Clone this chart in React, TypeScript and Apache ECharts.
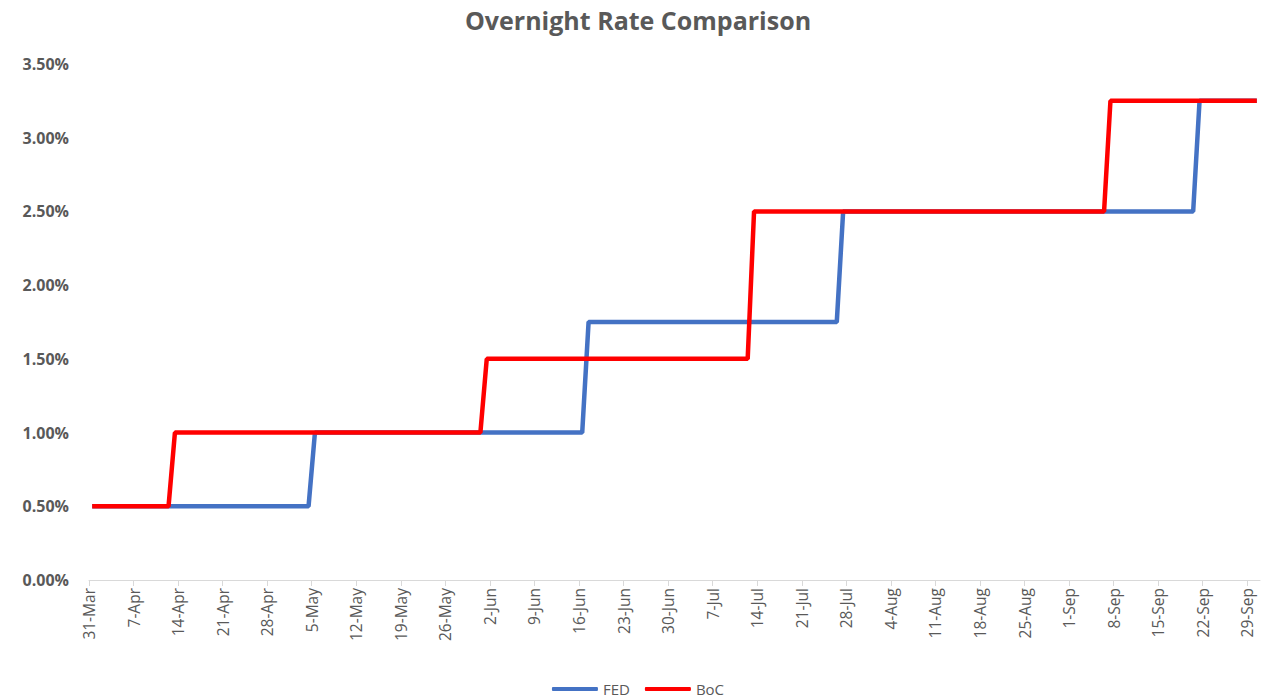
import React, { useEffect, useRef } from "react";
import * as echarts from "echarts";

const startDate = "2022-03-31";
const endDate = "2022-10-01";

const tickDates = [
  "2022-03-31", "2022-04-07", "2022-04-14", "2022-04-21", "2022-04-28",
  "2022-05-05", "2022-05-12", "2022-05-19", "2022-05-26", "2022-06-02",
  "2022-06-09", "2022-06-16", "2022-06-23", "2022-06-30", "2022-07-07",
  "2022-07-14", "2022-07-21", "2022-07-28", "2022-08-04", "2022-08-11",
  "2022-08-18", "2022-08-25", "2022-09-01", "2022-09-08", "2022-09-15",
  "2022-09-22", "2022-09-29",
];

const fedDates = [
  "2022-03-31", "2022-05-04", "2022-05-05", "2022-06-16", "2022-06-17",
  "2022-07-26", "2022-07-27", "2022-09-20", "2022-09-21", "2022-09-30",
];
const fedRates = [0.5, 0.5, 1.0, 1.0, 1.75, 1.75, 2.5, 2.5, 3.25, 3.25];

const bocDates = [
  "2022-03-31", "2022-04-12", "2022-04-13", "2022-05-31", "2022-06-01",
  "2022-07-12", "2022-07-13", "2022-09-06", "2022-09-07", "2022-09-30",
];
const bocRates = [0.5, 0.5, 1.0, 1.0, 1.5, 1.5, 2.5, 2.5, 3.25, 3.25];

const MONTHS = ["Jan", "Feb", "Mar", "Apr", "May", "Jun", "Jul", "Aug", "Sep", "Oct", "Nov", "Dec"];
const DAY = 86400000;
const t0 = Date.parse(startDate + "T00:00:00Z");
const dayOf = (d: string) => (Date.parse(d + "T00:00:00Z") - t0) / DAY;
// points sit in the middle of each day's slot (date axis)
const toPoints = (dates: string[], vals: number[]) => dates.map((d, i) => [dayOf(d) + 0.5, vals[i]]);
const fmtDay = (v: number) => {
  const dt = new Date(t0 + Math.round(v) * DAY);
  return dt.getUTCDate() + "-" + MONTHS[dt.getUTCMonth()];
};

export default function App() {
  const ref = useRef<HTMLDivElement>(null);
  useEffect(() => {
    document.body.style.margin = "0";
    const chart = echarts.init(ref.current!, undefined, { renderer: "svg" });
    const tickVals = tickDates.map(dayOf);
    const font = "'Open Sans', 'Noto Sans', sans-serif";
    chart.setOption({
      animation: false,
      backgroundColor: "#ffffff",
      title: {
        text: "Overnight Rate Comparison",
        left: "center",
        top: 2,
        textStyle: { fontFamily: font, fontSize: 25, fontWeight: "bold", color: "#595959" },
      },
      grid: { left: 89, right: 16, top: 64, bottom: 120, containLabel: false },
      legend: {
        top: 679,
        left: "center",
        padding: 0,
        itemWidth: 46,
        itemHeight: 4,
        itemGap: 15,
        icon: "roundRect",
        textStyle: { fontFamily: font, fontSize: 15, lineHeight: 20, color: "#595959" },
        data: ["FED", "BoC"],
      },
      xAxis: {
        type: "value",
        min: 0,
        max: dayOf(endDate),
        axisLine: { show: true, lineStyle: { color: "#d9d9d9", width: 1 } },
        axisTick: { show: true, length: 6, lineStyle: { color: "#d9d9d9" }, customValues: tickVals },
        axisLabel: {
          rotate: 90,
          margin: 8,
          customValues: tickVals,
          formatter: (v: number) => fmtDay(v),
          fontFamily: font,
          fontSize: 15.5,
          color: "#595959",
        },
        splitLine: { show: false },
      },
      yAxis: {
        type: "value",
        min: 0,
        max: 3.5,
        interval: 0.5,
        axisLine: { show: false },
        axisTick: { show: false },
        splitLine: { show: false },
        axisLabel: {
          margin: 20,
          formatter: (v: number) => v.toFixed(2) + "%",
          fontFamily: font,
          fontSize: 16,
          fontWeight: "bold",
          color: "#595959",
        },
      },
      series: [
        {
          name: "FED",
          type: "line",
          data: toPoints(fedDates, fedRates),
          showSymbol: false,
          lineStyle: { color: "#4472C4", width: 4.5 },
          itemStyle: { color: "#4472C4" },
        },
        {
          name: "BoC",
          type: "line",
          data: toPoints(bocDates, bocRates),
          showSymbol: false,
          lineStyle: { color: "#FF0000", width: 4.5 },
          itemStyle: { color: "#FF0000" },
        },
      ],
    });
    return () => chart.dispose();
  }, []);
  return <div ref={ref} style={{ width: 1276, height: 700 }} />;
}
